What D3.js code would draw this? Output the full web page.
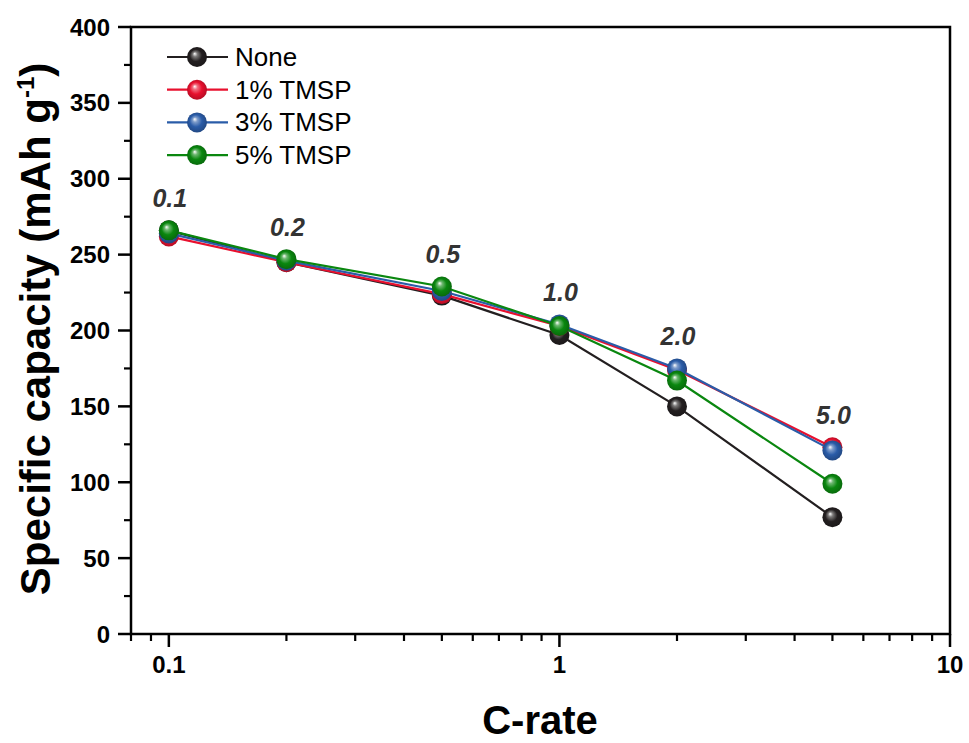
<!DOCTYPE html>
<html><head><meta charset="utf-8">
<script src="https://cdn.jsdelivr.net/npm/d3@7"></script>
<style>body{margin:0;background:#fff}svg{display:block}</style>
</head><body>
<svg id="chart" width="969" height="743"></svg>
<script>
const cRates = [0.1, 0.2, 0.5, 1, 2, 5];
const rateLabels = ["0.1", "0.2", "0.5", "1.0", "2.0", "5.0"];
const seriesNames = ["None", "1% TMSP", "3% TMSP", "5% TMSP"];
const seriesColors = ["#231f20", "#e8102e", "#2a5ca8", "#0a870f"];
const none = [266, 245, 223, 197, 150, 77];
const tmsp1 = [262, 245, 224, 203, 174, 123];
const tmsp3 = [264, 246, 226, 204, 175, 121];
const tmsp5 = [266, 247, 229, 203, 167, 99];
const seriesValues = [none, tmsp1, tmsp3, tmsp5];
const yTicks = [0, 50, 100, 150, 200, 250, 300, 350, 400];
const xTicks = [0.1, 1, 10];

const svg = d3.select("#chart");
const L = 131, R = 950, T = 27, B = 634;
const x = d3.scaleLog().domain([0.08, 10]).range([L, R]);
const y = d3.scaleLinear().domain([0, 400]).range([B, T]);
const font = "Arial, 'Liberation Sans', sans-serif";

// gradients
const defs = svg.append("defs");
seriesColors.forEach((c, i) => {
  const g = defs.append("radialGradient").attr("id", "grad" + i)
    .attr("cx", "0.5").attr("cy", "0.5").attr("r", "0.55").attr("fx", "0.38").attr("fy", "0.33");
  g.append("stop").attr("offset", "0").attr("stop-color", "#ffffff");
  g.append("stop").attr("offset", "0.22").attr("stop-color", d3.interpolateRgb("#ffffff", c)(0.6));
  g.append("stop").attr("offset", "0.55").attr("stop-color", c);
  g.append("stop").attr("offset", "1").attr("stop-color", d3.color(c).darker(0.8));
});

// minor ticks
const xMinor = [];
[0.01, 0.1, 1].forEach(d => { for (let k = 1; k < 10; k++) { const v = d * k; if (v >= 0.08 && v <= 10 && ![0.1, 1, 10].some(t => Math.abs(t - v) < 1e-9)) xMinor.push(v); } });
svg.append("g").selectAll("line").data(xMinor).join("line")
  .attr("x1", d => x(d)).attr("x2", d => x(d)).attr("y1", B).attr("y2", B + 7)
  .attr("stroke", "#000").attr("stroke-width", 2.2);
svg.append("g").selectAll("line").data(xTicks).join("line")
  .attr("x1", d => x(d)).attr("x2", d => x(d)).attr("y1", B).attr("y2", B + 13)
  .attr("stroke", "#000").attr("stroke-width", 2.5);
svg.append("g").selectAll("text").data(xTicks).join("text")
  .attr("x", d => x(d)).attr("y", B + 39).attr("text-anchor", "middle")
  .attr("font-family", font).attr("font-weight", "bold").attr("font-size", 24).text(d => d3.format("")(d));

const yMinor = d3.range(25, 400, 50);
svg.append("g").selectAll("line").data(yMinor).join("line")
  .attr("x1", L - 7).attr("x2", L).attr("y1", d => y(d)).attr("y2", d => y(d))
  .attr("stroke", "#000").attr("stroke-width", 2.2);
svg.append("g").selectAll("line").data(yTicks).join("line")
  .attr("x1", L - 13).attr("x2", L).attr("y1", d => y(d)).attr("y2", d => y(d))
  .attr("stroke", "#000").attr("stroke-width", 2.5);
svg.append("g").selectAll("text").data(yTicks).join("text")
  .attr("x", L - 21).attr("y", d => y(d) + 8.5).attr("text-anchor", "end")
  .attr("font-family", font).attr("font-weight", "bold").attr("font-size", 24).text(d => d);

// frame
svg.append("rect").attr("x", L).attr("y", T).attr("width", R - L).attr("height", B - T)
  .attr("fill", "none").attr("stroke", "#000").attr("stroke-width", 2.5);

// series
const line = d3.line().x((d, i) => x(cRates[i])).y(d => y(d));
seriesValues.forEach((vals, s) => {
  const g = svg.append("g");
  g.append("path").datum(vals).attr("d", line).attr("fill", "none")
    .attr("stroke", seriesColors[s]).attr("stroke-width", 2.2);
  g.selectAll("circle").data(vals).join("circle")
    .attr("cx", (d, i) => x(cRates[i])).attr("cy", d => y(d)).attr("r", 10)
    .attr("fill", `url(#grad${s})`);
});

// rate labels
svg.append("g").selectAll("text").data(cRates).join("text")
  .attr("x", d => x(d) + 1)
  .attr("y", (d, i) => y(d3.max(seriesValues, v => v[i])) - 23)
  .attr("text-anchor", "middle").attr("font-family", font).attr("font-weight", "bold")
  .attr("font-style", "italic").attr("font-size", 25).attr("fill", "#333")
  .text((d, i) => rateLabels[i]);

// legend
const lg = svg.append("g");
seriesNames.forEach((n, s) => {
  const ly = 57 + s * 32.7;
  lg.append("line").attr("x1", 167).attr("x2", 228).attr("y1", ly).attr("y2", ly)
    .attr("stroke", seriesColors[s]).attr("stroke-width", 2.2);
  lg.append("circle").attr("cx", 197).attr("cy", ly).attr("r", 10).attr("fill", `url(#grad${s})`);
  lg.append("text").attr("x", 235).attr("y", ly + 9).attr("font-family", font)
    .attr("font-size", 26).text(n);
});

// axis titles
svg.append("text").attr("x", 540).attr("y", 734).attr("text-anchor", "middle")
  .attr("font-family", font).attr("font-weight", "bold").attr("font-size", 40).text("C-rate");
const yt = svg.append("text").attr("transform", `translate(50,329) rotate(-90)`)
  .attr("text-anchor", "middle").attr("font-family", font).attr("font-weight", "bold").attr("font-size", 42);
yt.append("tspan").text("Specific capacity (mAh g");
yt.append("tspan").attr("dy", -16).attr("font-size", 24).text("-1");
yt.append("tspan").attr("dy", 16).text(")");
</script>
</body></html>
